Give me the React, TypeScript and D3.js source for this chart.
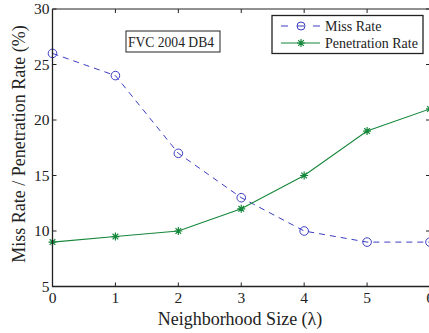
import React from "react";
import * as d3 from "d3";

// neighborhood sizes and the two rates (%)
const sizes = [0, 1, 2, 3, 4, 5, 6];
const missRate = [26, 24, 17, 13, 10, 9, 9];
const penetrationRate = [9, 9.5, 10, 12, 15, 19, 21];
const yTicks = [5, 10, 15, 20, 25, 30];

const W = 429;
const H = 333;
const margin = { left: 52.5, right: -1, top: 9, bottom: 46.5 };
const BLUE = "#3d3dc4";
const GREEN = "#15873a";
const FONT = "'Liberation Serif', 'Times New Roman', serif";

function Star({ x, y, r = 4 }: { x: number; y: number; r?: number }) {
  const d = d3.range(4).map((i) => {
    const a = (i * Math.PI) / 4;
    const dx = Math.cos(a) * r;
    const dy = Math.sin(a) * r;
    return `M${x - dx},${y - dy}L${x + dx},${y + dy}`;
  }).join("");
  return <path d={d} stroke={GREEN} strokeWidth={1.2} fill="none" />;
}

export default function App() {
  const x = d3.scaleLinear().domain([0, 6]).range([margin.left, W - margin.right]);
  const y = d3.scaleLinear().domain([5, 30]).range([H - margin.bottom, margin.top]);

  const line = d3.line<number>()
    .x((_, i) => x(sizes[i]))
    .y((d) => y(d));

  const x0 = x(0), x1 = x(6), yb = y(5), yt = y(30);

  return (
    <svg
      width={W}
      height={H}
      style={{ position: "absolute", left: 0, top: 0, background: "white" }}
      fontFamily={FONT}
    >
      {/* lines */}
      <path d={line(missRate) || ""} fill="none" stroke={BLUE} strokeWidth={1} strokeDasharray="6,5" />
      <path d={line(penetrationRate) || ""} fill="none" stroke={GREEN} strokeWidth={1.1} />
      {missRate.map((v, i) => (
        <circle key={"m" + i} cx={x(sizes[i])} cy={y(v)} r={4.3} fill="none" stroke={BLUE} strokeWidth={1} />
      ))}
      {penetrationRate.map((v, i) => (
        <Star key={"p" + i} x={x(sizes[i])} y={y(v)} />
      ))}

      {/* axes box */}
      <path d={`M${x0},${yt}V${yb}H${x1}`} fill="none" stroke="#222" strokeWidth={1.3} />
      <path d={`M${x0},${yt}H${x1}`} fill="none" stroke="#222" strokeWidth={1} />
      {sizes.map((s) => (
        <g key={"xt" + s}>
          <line x1={x(s)} x2={x(s)} y1={yb} y2={yb - 4} stroke="#222" />
          <line x1={x(s)} x2={x(s)} y1={yt} y2={yt + 4} stroke="#222" />
          <text x={x(s)} y={yb + 16} fontSize={15.5} textAnchor="middle" fill="#222">{s}</text>
        </g>
      ))}
      {yTicks.map((t) => (
        <g key={"yt" + t}>
          <line x1={x0} x2={x0 + 4} y1={y(t)} y2={y(t)} stroke="#222" />
          <line x1={x1} x2={x1 - 4} y1={y(t)} y2={y(t)} stroke="#222" />
          <text x={x0 - 3} y={y(t) + 5} fontSize={15.5} textAnchor="end" fill="#222">{t}</text>
        </g>
      ))}

      {/* axis labels */}
      <text x={240} y={325} fontSize={18} textAnchor="middle" fill="#222">Neighborhood Size (λ)</text>
      <text transform={`translate(25,144) rotate(-90)`} fontSize={18} textAnchor="middle" fill="#222">
        Miss Rate / Penetration Rate (%)
      </text>

      {/* annotation box */}
      <rect x={126} y={31} width={94} height={21} fill="white" stroke="#222" strokeWidth={1} />
      <text x={171} y={46.5} fontSize={13.6} textAnchor="middle" fill="#222">FVC 2004 DB4</text>

      {/* legend */}
      <rect x={272} y={15.5} width={151} height={38} fill="white" stroke="#222" strokeWidth={1.3} />
      <line x1={281} x2={320} y1={26} y2={26} stroke={BLUE} strokeDasharray="7,9" />
      <circle cx={301} cy={26} r={4} fill="none" stroke={BLUE} />
      <text x={325} y={31} fontSize={14} fill="#222">Miss Rate</text>
      <line x1={281} x2={320} y1={43} y2={43} stroke={GREEN} strokeWidth={1.1} />
      <Star x={301} y={43} />
      <text x={325} y={48} fontSize={14} fill="#222">Penetration Rate</text>
    </svg>
  );
}
